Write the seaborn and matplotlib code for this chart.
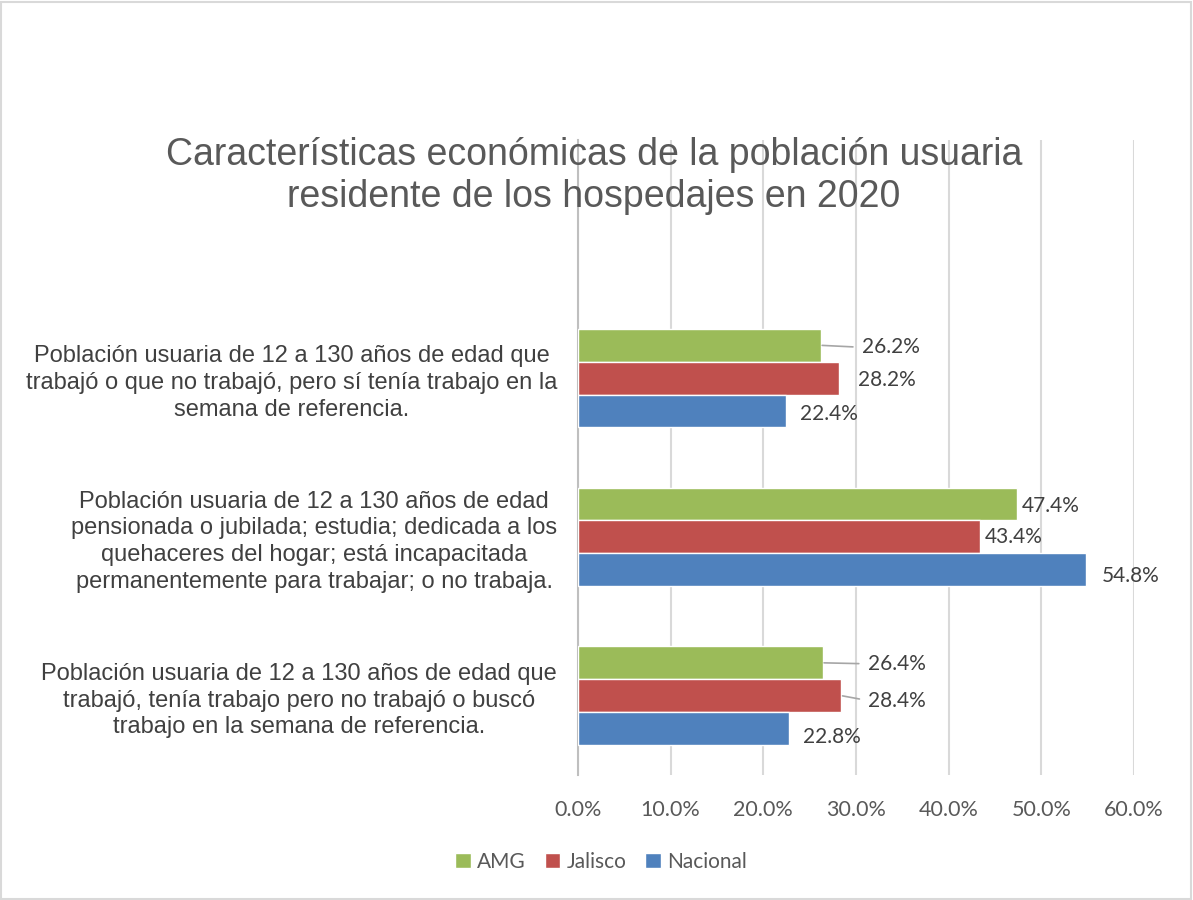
import seaborn as sns
import matplotlib.pyplot as plt
import matplotlib.ticker as mticker
import pandas as pd

categorias = [
    'Población usuaria de 12 a 130 años de edad que\ntrabajó o que no trabajó, pero sí tenía trabajo en la\nsemana de referencia.',
    'Población usuaria de 12 a 130 años de edad\npensionada o jubilada; estudia; dedicada a los\nquehaceres del hogar; está incapacitada\npermanentemente para trabajar; o no trabaja.',
    'Población usuaria de 12 a 130 años de edad que\ntrabajó, tenía trabajo pero no trabajó o buscó\ntrabajo en la semana de referencia.',
]
series = ['AMG', 'Jalisco', 'Nacional']
amg = [26.2, 47.4, 26.4]
jalisco = [28.2, 43.4, 28.4]
nacional = [22.4, 54.8, 22.8]
x_ticks = [0, 10, 20, 30, 40, 50, 60]

colores = {'AMG': '#9BBB59', 'Jalisco': '#C0504D', 'Nacional': '#4F81BD'}

# label offsets in pixels (dx, dy) from bar end, and whether a leader line is drawn
label_style = {
    (0, 0): (41, -2, True), (1, 0): (19, -2, False), (2, 0): (14, -3, False),
    (0, 1): (5, -2, False), (1, 1): (5, 0, False), (2, 1): (16, -6, False),
    (0, 2): (45, -1, True), (1, 2): (27, -5, True), (2, 2): (14, -9, False),
}

rows = []
for serie, vals in zip(series, [amg, jalisco, nacional]):
    for cat, v in zip(categorias, vals):
        rows.append({'categoria': cat, 'serie': serie, 'valor': v})
df = pd.DataFrame(rows)

sns.set_style('white')
plt.rcParams['font.family'] = ['Liberation Sans', 'DejaVu Sans']

fig = plt.figure(figsize=(11.93, 9), dpi=100)
ax = fig.add_axes([578 / 1193, 1 - 775 / 900, 556 / 1193, 635 / 900])

sns.barplot(data=df, x='valor', y='categoria', hue='serie', hue_order=series,
            order=categorias, palette=colores, width=0.62, saturation=1,
            orient='h', ax=ax, zorder=3)

ax.set_xlim(0, 60)
ax.set_ylim(2.5, -1.5)
ax.set_xticks(x_ticks)
ax.xaxis.set_major_formatter(mticker.FuncFormatter(lambda v, p: f'{v:.1f}%'))
ax.grid(True, axis='x', color='#D9D9D9', linewidth=1.5, zorder=0)
ax.set_axisbelow(True)
for s in ['top', 'right', 'bottom']:
    ax.spines[s].set_visible(False)
ax.spines['left'].set_color('#BFBFBF')
ax.spines['left'].set_linewidth(1.5)
ax.tick_params(axis='x', length=0, pad=18, labelsize=15.5, labelcolor='#595959')
ax.tick_params(axis='y', length=0, pad=15, labelsize=17, labelcolor='#404040')
for t in ax.get_xticklabels():
    t.set_fontfamily('Lato')
for t in ax.get_yticklabels():
    t.set_multialignment('center')
    t.set_linespacing(1.28)
ax.set_xlabel('')
ax.set_ylabel('')

for si, cont in enumerate(ax.containers):
    for ci, bar in enumerate(cont):
        dx, dy, leader = label_style[(si, ci)]
        w = bar.get_width()
        yc = bar.get_y() + bar.get_height() / 2
        arrow = None
        if leader:
            arrow = dict(arrowstyle='-', color='#A6A6A6', lw=1.2,
                         shrinkA=4, shrinkB=1, relpos=(0, 0.5))
        ax.annotate(f'{w:.1f}%', xy=(w, yc), xytext=(dx, dy),
                    textcoords='offset pixels', ha='left', va='center',
                    fontsize=15, color='#404040', family='Lato',
                    arrowprops=arrow, annotation_clip=False)

fig.text(594 / 1193, 1 - 176 / 900,
         'Características económicas de la población usuaria\nresidente de los hospedajes en 2020',
         ha='center', va='center', fontsize=27, color='#595959', linespacing=1.2)

sns.move_legend(ax, 'center', bbox_to_anchor=(601 / 1193, 1 - 862 / 900),
                bbox_transform=fig.transFigure, ncol=3, frameon=False, title=None,
                fontsize=15, handlelength=0.75, handleheight=0.75, columnspacing=0.9,
                handletextpad=0.3)
for t in ax.get_legend().get_texts():
    t.set_color('#595959')
    t.set_fontfamily('Lato')

fig.patches.append(plt.Rectangle((0.001, 0.001), 0.997, 0.997, transform=fig.transFigure,
                                 fill=False, edgecolor='#D9D9D9', linewidth=1.5))

fig.savefig('out.png', dpi=100)
